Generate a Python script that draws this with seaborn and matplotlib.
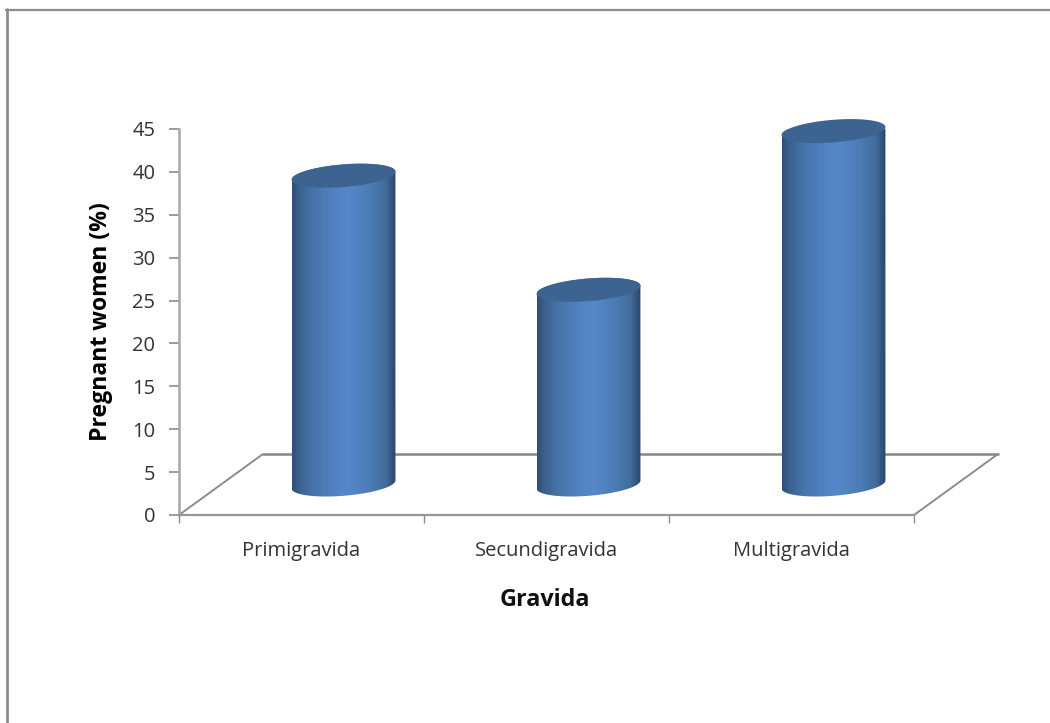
import numpy as np
import matplotlib
matplotlib.use("Agg")
import matplotlib.pyplot as plt
from matplotlib.colors import LinearSegmentedColormap
from matplotlib.lines import Line2D
from matplotlib.patches import PathPatch
from matplotlib.path import Path
import seaborn as sns

categories = ["Primigravida", "Secundigravida", "Multigravida"]
pregnant_women_pct = [36.0, 22.7, 41.2]
y_ticks = [0, 5, 10, 15, 20, 25, 30, 35, 40, 45]

W, H = 1050, 723
LABEL_FONT = "Open Sans"
GREY = "#8c8c8c"
TOP_CAP = "#3d6391"
SHADE_STOPS = [(0.0, "#2f4f78"), (0.08, "#3b6390"), (0.2, "#4673a8"), (0.45, "#5385c6"),
               (0.55, "#5587c9"), (0.75, "#4c7cb5"), (0.9, "#426d9c"), (1.0, "#2b4568")]

sns.set_theme(style="white")
plt.rcParams["font.family"] = [LABEL_FONT, "DejaVu Sans"]

fig = plt.figure(figsize=(W / 100, H / 100), dpi=100, facecolor="white")
ax = fig.add_axes([179 / W, 1 - 515 / H, 735 / W, 386 / H])
ax.patch.set_alpha(0)

sns.barplot(x=categories, y=pregnant_women_pct, width=0.424, color="#5587c9", ax=ax)
ax.set_xlim(-0.5, 2.5)
ax.set_ylim(0, 45)

# Floor depth of the pseudo-3D plot, in data units per axis
depth_x, depth_y = 84 / 245, 61 / (386 / 45)
floor = dict(color=GREY, lw=1.4, clip_on=False, zorder=1, solid_capstyle="butt")
ax.plot([-0.5, -0.5 + depth_x], [0, depth_y], **floor)
ax.plot([2.5, 2.5 + depth_x], [0, depth_y], **floor)
ax.plot([-0.5 + depth_x, 2.5 + depth_x], [depth_y, depth_y], color=GREY, lw=1.9,
        clip_on=False, zorder=1)

shade = LinearSegmentedColormap.from_list("cylinder", SHADE_STOPS)
gradient = np.linspace(0, 1, 256)[None, :]
minor_radius = 1.32
tilt = 0.47
base = depth_y / 2
theta = np.linspace(0, 2 * np.pi, 181)


def rim(cx, cy, half_width, angles):
    xs = cx + half_width * np.cos(angles)
    ys = cy + minor_radius * np.sin(angles) + tilt * np.cos(angles)
    return np.column_stack([xs, ys])


for bar in list(ax.patches):
    value = bar.get_height()
    half_width = bar.get_width() / 2
    cx = bar.get_x() + half_width + depth_x / 2
    top = base + value
    bar.set_visible(False)

    # Side wall: lower half of the bottom rim joined to the upper rim
    lower = rim(cx, base, half_width, np.linspace(np.pi, 2 * np.pi, 91))
    upper = rim(cx, top, half_width, np.linspace(0, np.pi, 91))
    wall = Path(np.vstack([lower, upper, lower[:1]]))
    image = ax.imshow(gradient, cmap=shade, aspect="auto", zorder=3,
                      extent=(cx - half_width, cx + half_width, base - 3, top + 3))
    image.set_clip_path(PathPatch(wall, transform=ax.transData))
    ax.add_patch(PathPatch(Path(rim(cx, top, half_width, theta)), facecolor=TOP_CAP,
                           edgecolor="none", zorder=4, clip_on=False))

ax.set_xlim(-0.5, 2.5)
ax.set_ylim(0, 45)

for side in ("top", "right"):
    ax.spines[side].set_visible(False)
ax.spines["left"].set_color("#a6a6a6")
ax.spines["left"].set_linewidth(1.8)
ax.spines["bottom"].set_color("#969696")
ax.spines["bottom"].set_linewidth(1.6)

ax.set_yticks(y_ticks)
ax.set_xticks([-0.5, 0.5, 1.5, 2.5], minor=True)
ax.set_xticks([0, 1, 2], categories)
ax.tick_params(axis="x", which="major", length=0, pad=19, labelsize=14.5, labelcolor="#333333")
ax.tick_params(axis="x", which="minor", length=6, width=1, color=GREY, bottom=True)
ax.tick_params(axis="y", length=7, width=1.2, color=GREY, left=True, pad=10,
               labelsize=14.5, labelcolor="#333333")

fig.text(101 / W, 1 - 322 / H, "Pregnant women (%)", rotation=90, ha="center", va="center",
         fontsize=16.6, fontweight="bold", color="black")
fig.text(545 / W, 1 - 600 / H, "Gravida", ha="center", va="center",
         fontsize=16.8, fontweight="bold", color="#111111")

# Outer chart frame along the top and left edges
fig.add_artist(Line2D([5.5 / W, 1], [1 - 10 / H, 1 - 10 / H], color=GREY, lw=1.6))
fig.add_artist(Line2D([6.5 / W, 6.5 / W], [0, 1 - 9 / H], color=GREY, lw=2.0))

fig.savefig("out.png", dpi=100, facecolor="white")
